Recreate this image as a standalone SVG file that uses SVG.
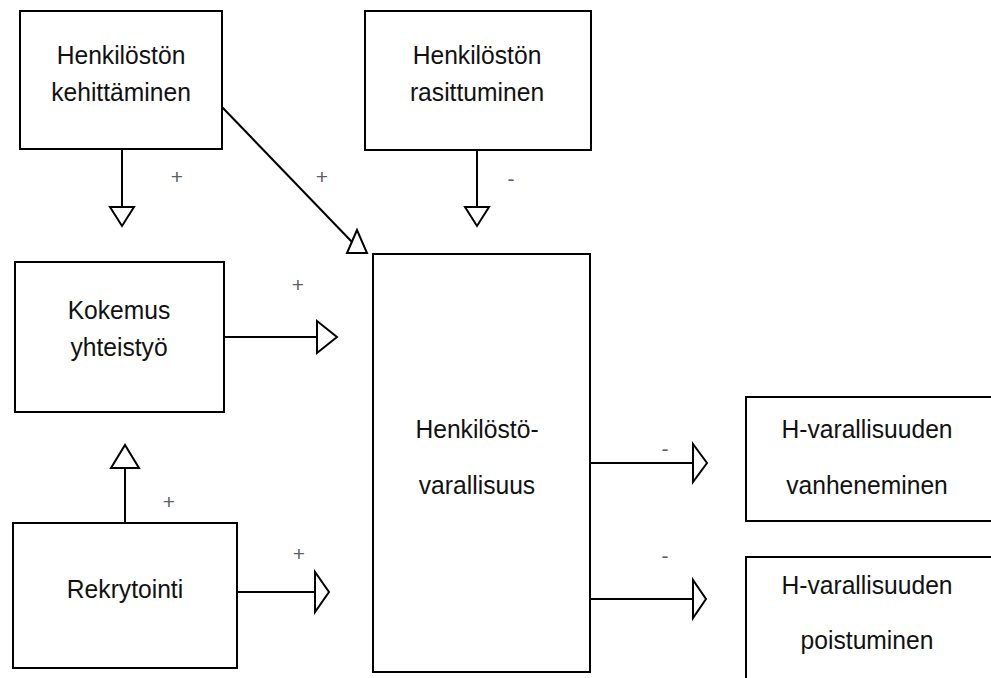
<svg xmlns="http://www.w3.org/2000/svg" width="991" height="678" viewBox="0 0 991 678">
<style>
.box{fill:#fff;stroke:#000;stroke-width:2}
.t{font-family:"Liberation Sans",Arial,sans-serif;font-size:26.5px;fill:#111;text-anchor:middle}
.lbl{font-family:"Liberation Sans",Arial,sans-serif;font-size:21px;fill:#5a5f6a;text-anchor:middle}
.ln{stroke:#000;stroke-width:2;fill:none}
.ah{fill:#fff;stroke:#000;stroke-width:2;stroke-linejoin:miter}
</style>
<rect width="991" height="678" fill="#fff"/>
<g id="connectors">
<line class="ln" x1="122" y1="149" x2="122" y2="207"/>
<polygon class="ah" points="110,207 134,207 122,226"/>
<line class="ln" x1="222" y1="107" x2="352" y2="242"/>
<polygon class="ah" points="357,230 347,253 367,253"/>
<line class="ln" x1="477" y1="150" x2="477" y2="207"/>
<polygon class="ah" points="465,207 489,207 477,226"/>
<line class="ln" x1="224" y1="337" x2="317" y2="337"/>
<polygon class="ah" points="317,321 317,353 337,337"/>
<line class="ln" x1="125" y1="523" x2="125" y2="468"/>
<polygon class="ah" points="111,468 139,468 125,445"/>
<line class="ln" x1="237" y1="592" x2="315" y2="592"/>
<polygon class="ah" points="315,572 315,612 329,592"/>
<line class="ln" x1="590" y1="463" x2="693" y2="463"/>
<polygon class="ah" points="693,444 693,482 707,463"/>
<line class="ln" x1="590" y1="599" x2="693" y2="599"/>
<polygon class="ah" points="693,580 693,618 706,599"/>
<text class="lbl" x="177" y="184">+</text>
<text class="lbl" x="322" y="184">+</text>
<text class="lbl" x="511" y="186">-</text>
<text class="lbl" x="298" y="292">+</text>
<text class="lbl" x="169" y="509">+</text>
<text class="lbl" x="299" y="561">+</text>
<text class="lbl" x="665" y="456">-</text>
<text class="lbl" x="665" y="563">-</text>
</g>
<g id="n-kehittaminen">
<rect class="box" x="20" y="11" width="202" height="138"/>
<text class="t" transform="translate(121,64) scale(0.93,1)">Henkilöstön</text>
<text class="t" transform="translate(121,101) scale(0.93,1)">kehittäminen</text>
</g>
<g id="n-rasittuminen">
<rect class="box" x="365" y="11" width="226" height="139"/>
<text class="t" transform="translate(477,64) scale(0.93,1)">Henkilöstön</text>
<text class="t" transform="translate(477,101) scale(0.93,1)">rasittuminen</text>
</g>
<g id="n-kokemus">
<rect class="box" x="15" y="262" width="209" height="150"/>
<text class="t" transform="translate(119,319) scale(0.93,1)">Kokemus</text>
<text class="t" transform="translate(119,356) scale(0.93,1)">yhteistyö</text>
</g>
<g id="n-rekrytointi">
<rect class="box" x="13" y="523" width="224" height="145"/>
<text class="t" transform="translate(125,598) scale(0.93,1)">Rekrytointi</text>
</g>
<g id="n-varallisuus">
<rect class="box" x="373" y="254" width="217" height="418"/>
<text class="t" transform="translate(477,438) scale(0.93,1)">Henkilöstö-</text>
<text class="t" transform="translate(477,494) scale(0.93,1)">varallisuus</text>
</g>
<g id="n-vanheneminen">
<rect class="box" x="746" y="397" width="250" height="124"/>
<text class="t" transform="translate(867,438) scale(0.93,1)">H-varallisuuden</text>
<text class="t" transform="translate(867,494) scale(0.93,1)">vanheneminen</text>
</g>
<g id="n-poistuminen">
<rect class="box" x="746" y="557" width="250" height="130"/>
<text class="t" transform="translate(867,594) scale(0.93,1)">H-varallisuuden</text>
<text class="t" transform="translate(867,649) scale(0.93,1)">poistuminen</text>
</g>
</svg>
